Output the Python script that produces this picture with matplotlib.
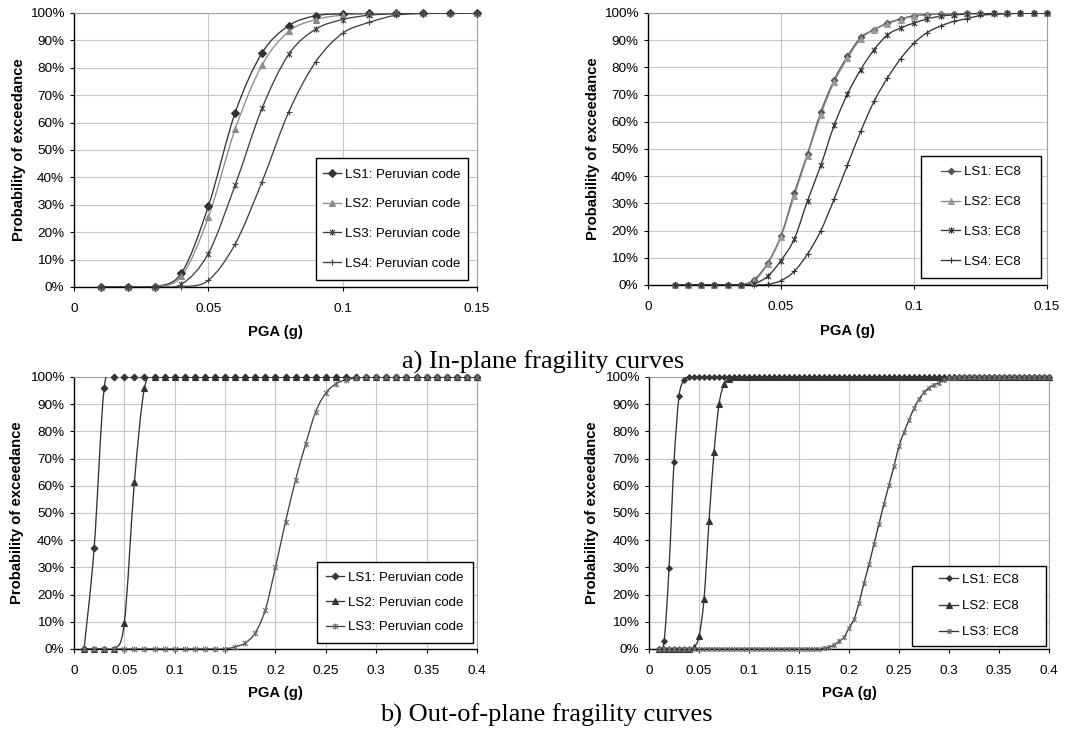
import numpy as np
import matplotlib
matplotlib.use('Agg')
import matplotlib.pyplot as plt
from matplotlib.path import Path
from matplotlib.patches import PathPatch, Rectangle
from matplotlib.lines import Line2D
from matplotlib.ticker import PercentFormatter, FuncFormatter

plt.rcParams['font.family'] = 'Liberation Sans'

# PGA grids (g)
pga_001_015 = np.round(np.arange(1, 16) * 0.01, 3)
pga_0005_015 = np.round(np.arange(2, 31) * 0.005, 3)
pga_001_040 = np.round(np.arange(1, 41) * 0.01, 3)
pga_0005_040 = np.round(np.arange(2, 81) * 0.005, 3)

# a) in-plane, Peruvian code (%)
ip_peru_ls1 = [0, 0, 0.1, 5.1, 29.4, 63.6, 85.4, 95.4, 99.0, 99.7, 99.9, 100, 100, 100, 100]
ip_peru_ls2 = [0, 0, 0.1, 3.9, 25.4, 57.6, 81.0, 93.3, 97.6, 99.2, 99.7, 99.9, 100, 100, 100]
ip_peru_ls3 = [0, 0, 0, 1.0, 12.2, 37.2, 65.2, 85.0, 94.1, 97.6, 99.2, 99.7, 99.9, 100, 100]
ip_peru_ls4 = [0, 0, 0, 0.1, 2.4, 15.7, 38.4, 64.0, 82.2, 92.6, 96.6, 99.2, 99.8, 99.9, 100]

# a) in-plane, EC8 (%)
ip_ec8_ls1 = [0, 0, 0, 0, 0, 0, 2.0, 8.1, 18.1, 33.8, 48.3, 63.6, 75.4, 84.1, 91.0,
              93.9, 96.3, 97.8, 99.0, 99.4, 99.6, 99.8, 99.9, 100, 100, 100, 100, 100, 100]
ip_ec8_ls2 = [0, 0, 0, 0, 0, 0, 1.5, 7.8, 17.6, 32.8, 47.6, 62.6, 74.6, 83.3, 90.5,
              93.8, 96.0, 97.6, 98.8, 99.3, 99.6, 99.8, 99.9, 100, 100, 100, 100, 100, 100]
ip_ec8_ls3 = [0, 0, 0, 0, 0, 0, 0.5, 3.2, 9.0, 16.9, 31.0, 44.0, 58.7, 70.2, 79.2,
              86.5, 91.9, 94.5, 96.3, 97.8, 98.8, 99.3, 99.6, 99.8, 99.9, 100, 100, 100, 100]
ip_ec8_ls4 = [0, 0, 0, 0, 0, 0, 0, 0.2, 1.6, 5.0, 11.4, 20.0, 31.6, 44.1, 56.5,
              67.5, 76.0, 83.2, 88.9, 92.8, 95.2, 96.9, 97.9, 99.1, 99.5, 99.7, 99.9, 100, 100]

# b) out-of-plane, Peruvian code (%)
oop_peru_ls1 = [0, 37.0, 96.0] + [100] * 37
oop_peru_ls2 = [0, 0, 0, 0, 9.6, 61.4, 96.0] + [100] * 33
oop_peru_ls3 = [0] * 15 + [0.8, 2.2, 6.0, 14.5, 30.0, 46.8, 62.2, 75.4, 87.3, 94.1,
                           97.5, 99.0, 99.6, 99.9] + [100] * 11

# b) out-of-plane, EC8 (%)
oop_ec8_ls1 = [0, 2.8, 29.8, 68.9, 92.9, 98.8, 99.9] + [100] * 72
oop_ec8_ls2 = [0] * 7 + [0.6, 4.7, 18.5, 47.0, 72.3, 90.0, 97.3, 99.3, 99.9] + [100] * 63
oop_ec8_ls3 = [0] * 33 + [0.2, 0.6, 1.5, 2.8, 4.3, 7.8, 10.9, 16.9, 24.3, 31.1, 38.7,
                          46.0, 53.4, 60.4, 67.2, 74.6, 79.7, 84.2, 88.5, 91.8, 94.3,
                          96.0, 97.1, 97.9, 98.9, 99.5, 99.8, 99.9] + [100] * 18

# x with a vertical bar, like the spreadsheet "star" marker
STAR = Path([(-1, -1), (1, 1), (-1, 1), (1, -1), (0, -1.2), (0, 1.2)],
            [Path.MOVETO, Path.LINETO] * 3)


def smooth_path(x, y):
    # cubic bezier through every point (catmull-rom style tangents)
    pts = np.column_stack([x, y]).astype(float)
    n = len(pts)
    verts = [pts[0]]
    codes = [Path.MOVETO]
    for i in range(n - 1):
        p0 = pts[max(i - 1, 0)]
        p1 = pts[i]
        p2 = pts[i + 1]
        p3 = pts[min(i + 2, n - 1)]
        verts += [p1 + (p2 - p0) / 6, p2 - (p3 - p1) / 6, p2]
        codes += [Path.CURVE4] * 3
    return Path(verts, codes)


def draw_curve(ax, x, y, label, marker, ms, color, mcolor, mew=0.8):
    ax.add_patch(PathPatch(smooth_path(x, y), fill=False, ec=color, lw=0.95, zorder=3))
    ax.plot(x, y, ls='none', marker=marker, ms=ms, mfc=mcolor, mec=mcolor,
            mew=mew, zorder=4, clip_on=False)
    return Line2D([], [], color=color, lw=0.95, marker=marker, ms=ms,
                  mfc=mcolor, mec=mcolor, mew=mew, label=label)


def style_axes(ax, xmax, ylab_x, xlab_y):
    ax.set_xlim(0, xmax)
    ax.set_ylim(0, 100)
    ax.set_xticks(np.round(np.arange(0, xmax + 1e-9, 0.05), 2))
    ax.set_yticks(np.arange(0, 101, 10))
    ax.xaxis.set_major_formatter(FuncFormatter(lambda v, _: f'{v:g}'))
    ax.yaxis.set_major_formatter(PercentFormatter(xmax=100, decimals=0))
    ax.grid(True, color='#c8c8c8', lw=0.8)
    ax.set_axisbelow(True)
    for s in ['top', 'right']:
        ax.spines[s].set_color('#a0a0a0')
        ax.spines[s].set_linewidth(0.8)
    for s in ['left', 'bottom']:
        ax.spines[s].set_color('black')
        ax.spines[s].set_linewidth(1.0)
    ax.tick_params(axis='x', direction='out', length=3, width=0.8, pad=8.5, labelsize=9.7)
    ax.tick_params(axis='y', direction='out', length=3, width=0.8, pad=4, labelsize=9.7)
    ax.set_xlabel('PGA (g)', fontsize=10.7, fontweight='bold')
    ax.set_ylabel('Probability of exceedance', fontsize=10.7, fontweight='bold')
    ax.xaxis.set_label_coords(0.5, xlab_y)
    ax.yaxis.set_label_coords(ylab_x, 0.5)


def boxed_legend(ax, handles, box, spacing):
    x0, y0, x1, y1 = box
    ax.add_patch(Rectangle((x0, y0), x1 - x0, y1 - y0, transform=ax.transAxes,
                           fc='white', ec='black', lw=1.0, zorder=5, clip_on=False))
    leg = ax.legend(handles=handles, loc='center',
                    bbox_to_anchor=((x0 + x1) / 2, (y0 + y1) / 2),
                    frameon=False, fontsize=9.5, handlelength=1.4,
                    handletextpad=0.3, labelspacing=spacing,
                    borderpad=0, borderaxespad=0)
    leg.set_zorder(6)


fig = plt.figure(figsize=(10.83, 7.33), dpi=100)
ax_tl = fig.add_axes([0.0683, 0.6085, 0.3721, 0.3738])
ax_tr = fig.add_axes([0.5983, 0.6112, 0.3684, 0.3711])
ax_bl = fig.add_axes([0.0683, 0.1146, 0.3721, 0.3711])
ax_br = fig.add_axes([0.5993, 0.1146, 0.3693, 0.3711])

# in-plane, Peruvian code
h = [
    draw_curve(ax_tl, pga_001_015, ip_peru_ls1, 'LS1: Peruvian code', 'D', 3.8, '#333333', '#333333'),
    draw_curve(ax_tl, pga_001_015, ip_peru_ls2, 'LS2: Peruvian code', '^', 4.5, '#8c8c8c', '#8c8c8c'),
    draw_curve(ax_tl, pga_001_015, ip_peru_ls3, 'LS3: Peruvian code', STAR, 4.5, '#404040', '#404040'),
    draw_curve(ax_tl, pga_001_015, ip_peru_ls4, 'LS4: Peruvian code', '+', 4.8, '#404040', '#404040'),
]
style_axes(ax_tl, 0.15, -0.12, -0.14)
boxed_legend(ax_tl, h, (0.6005, 0.0255, 0.9777, 0.4708), 1.32)

# in-plane, EC8
h = [
    draw_curve(ax_tr, pga_0005_015, ip_ec8_ls1, 'LS1: EC8', 'D', 3.3, '#555555', '#555555'),
    draw_curve(ax_tr, pga_0005_015, ip_ec8_ls2, 'LS2: EC8', '^', 4.0, '#8a8a8a', '#999999'),
    draw_curve(ax_tr, pga_0005_015, ip_ec8_ls3, 'LS3: EC8', STAR, 4.5, '#333333', '#333333'),
    draw_curve(ax_tr, pga_0005_015, ip_ec8_ls4, 'LS4: EC8', '+', 4.8, '#333333', '#333333'),
]
style_axes(ax_tr, 0.15, -0.119, -0.142)
boxed_legend(ax_tr, h, (0.684, 0.0257, 0.985, 0.474), 1.34)

# out-of-plane, Peruvian code
h = [
    draw_curve(ax_bl, pga_001_040, oop_peru_ls1, 'LS1: Peruvian code', 'D', 3.4, '#333333', '#333333'),
    draw_curve(ax_bl, pga_001_040, oop_peru_ls2, 'LS2: Peruvian code', '^', 4.4, '#333333', '#333333'),
    draw_curve(ax_bl, pga_001_040, oop_peru_ls3, 'LS3: Peruvian code', STAR, 4.3, '#444444', '#6e6e6e'),
]
style_axes(ax_bl, 0.4, -0.125, -0.137)
boxed_legend(ax_bl, h, (0.603, 0.022, 0.990, 0.32), 0.95)

# out-of-plane, EC8
h = [
    draw_curve(ax_br, pga_0005_040, oop_ec8_ls1, 'LS1: EC8', 'D', 2.9, '#333333', '#333333'),
    draw_curve(ax_br, pga_0005_040, oop_ec8_ls2, 'LS2: EC8', '^', 4.1, '#333333', '#333333'),
    draw_curve(ax_br, pga_0005_040, oop_ec8_ls3, 'LS3: EC8', STAR, 3.8, '#333333', '#6e6e6e'),
]
style_axes(ax_br, 0.4, -0.126, -0.137)
boxed_legend(ax_br, h, (0.6575, 0.011, 0.9925, 0.305), 1.05)

fig.text(0.5014, 0.4966, 'a) In-plane fragility curves', ha='center', va='baseline',
         fontsize=19, family='Liberation Serif')
fig.text(0.504, 0.0154, 'b) Out-of-plane fragility curves', ha='center', va='baseline',
         fontsize=19, family='Liberation Serif')

fig.savefig('out.png', dpi=100)
